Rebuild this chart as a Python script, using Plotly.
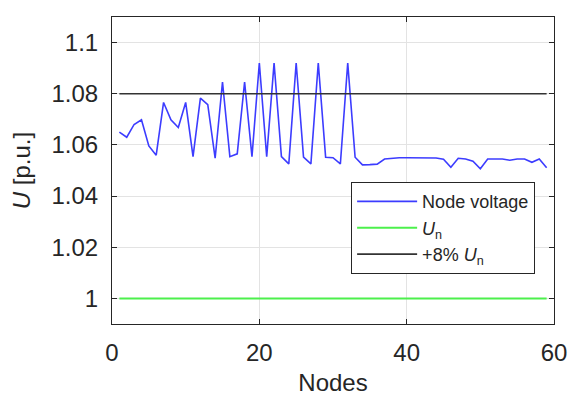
import plotly.graph_objects as go

nodes = list(range(1, 60))
node_voltage = [
    1.065, 1.063, 1.068, 1.0698, 1.0596, 1.056, 1.0766, 1.0698, 1.0668, 1.0766,
    1.0554, 1.0783, 1.0757, 1.0548, 1.0846, 1.0554, 1.0565, 1.0846, 1.0554, 1.092,
    1.0554, 1.092, 1.0554, 1.0526, 1.092, 1.0552, 1.0526, 1.092, 1.0552, 1.055,
    1.0526, 1.092, 1.0552, 1.0522, 1.0523, 1.0525, 1.0545, 1.0548, 1.055, 1.055,
    1.055, 1.0549, 1.0548, 1.0549, 1.0544, 1.0513, 1.0548, 1.0545, 1.0536, 1.0507,
    1.0545, 1.0545, 1.0545, 1.054, 1.0545, 1.0545, 1.0532, 1.0545, 1.0511,
]
u_nominal = [1.0] * len(nodes)
u_plus8 = [1.08] * len(nodes)

x_ticks = [0, 20, 40, 60]
y_ticks = [1.0, 1.02, 1.04, 1.06, 1.08, 1.1]
y_tick_labels = ["1", "1.02", "1.04", "1.06", "1.08", "1.1"]

FONT = "Liberation Sans, Arial, sans-serif"
TXT = "#262626"

fig = go.Figure()
fig.add_trace(go.Scatter(x=nodes, y=node_voltage, mode="lines", name="Node voltage",
                         line=dict(color="#3c3cff", width=1.6)))
fig.add_trace(go.Scatter(x=nodes, y=u_nominal, mode="lines", name="<i>U</i><sub>n</sub>",
                         line=dict(color="#4cf04c", width=2)))
fig.add_trace(go.Scatter(x=nodes, y=u_plus8, mode="lines", name="+8% <i>U</i><sub>n</sub>",
                         line=dict(color="#333333", width=1.6)))

axis_common = dict(
    showline=True, linecolor=TXT, linewidth=1, mirror="ticks", automargin=False,
    ticks="inside", ticklen=5, tickcolor=TXT, showgrid=True, gridcolor="#e3e3e3",
    zeroline=False, tickfont=dict(family=FONT, size=24, color=TXT),
)

fig.update_layout(
    width=570, height=396,
    margin=dict(l=112, r=16, t=17, b=72),
    paper_bgcolor="white", plot_bgcolor="white",
    font=dict(family=FONT, color=TXT),
    xaxis=dict(range=[0, 60], tickvals=x_ticks, ticklabelstandoff=7, **axis_common,
               title=dict(text="Nodes", font=dict(family=FONT, size=24, color=TXT), standoff=10)),
    yaxis=dict(range=[0.99, 1.11], tickvals=y_ticks, ticktext=y_tick_labels, ticklabelstandoff=8,
               **axis_common,
               title=dict(text="<i>U</i> [p.u.]", font=dict(family=FONT, size=24, color=TXT), standoff=14)),
    legend=dict(x=0.541, y=0.462, xanchor="left", yanchor="top",
                bgcolor="white", bordercolor=TXT, borderwidth=1,
                font=dict(family=FONT, size=18, color=TXT),
                itemwidth=60, tracegroupgap=0),
    showlegend=True,
)

fig.write_html("out.html", config={"displayModeBar": False},
               post_script="document.body.style.margin='0';document.body.style.overflow='hidden';")
